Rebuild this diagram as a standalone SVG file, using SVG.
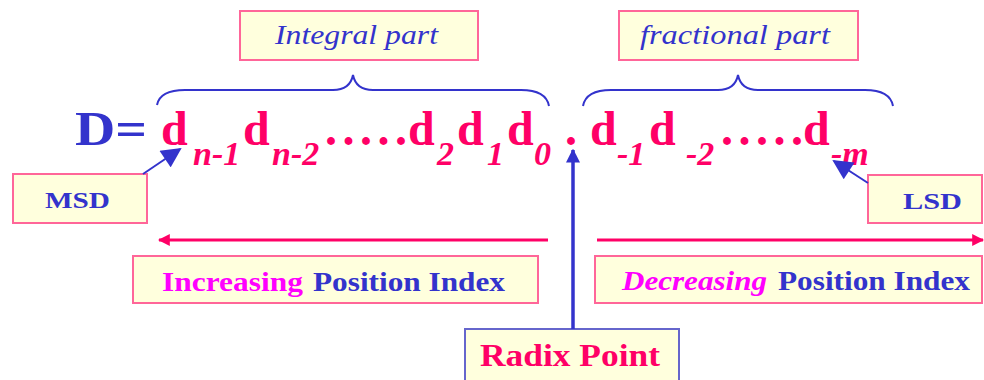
<svg xmlns="http://www.w3.org/2000/svg" width="984" height="380" viewBox="0 0 984 380">
<defs>
<style>
.box{fill:#FFFFDD;stroke:#FF6699;stroke-width:2}
.rbox{fill:#FFFFDD;stroke:#6666CC;stroke-width:2}
.lbl{font-family:"Liberation Serif",serif;font-style:italic;font-size:28px;fill:#3333CC}
.bl{font-family:"Liberation Serif",serif;font-weight:bold;fill:#3333CC}
.d{font-family:"Liberation Serif",serif;font-weight:bold;font-size:48px;fill:#FF0066}
.sub{font-family:"Liberation Serif",serif;font-weight:bold;font-style:italic;font-size:34px;fill:#FF0066}
.brace{fill:none;stroke:#3333CC;stroke-width:2}
.pk{stroke:#FF0066;stroke-width:3;fill:none}
.bn{stroke:#3333CC;stroke-width:2;fill:none}
.mg{fill:#FF00FF}
</style>
<marker id="ap" viewBox="0 0 10 10" refX="9" refY="5" markerWidth="4" markerHeight="4" orient="auto" markerUnits="strokeWidth"><path d="M0,0 L10,5 L0,10 Z" fill="#FF0066"/></marker>
<marker id="ab" viewBox="0 0 10 10" refX="9" refY="5" markerWidth="11" markerHeight="10" orient="auto" markerUnits="strokeWidth"><path d="M0,0 L10,5 L0,10 Z" fill="#3333CC"/></marker>
<marker id="ar" viewBox="0 0 10 10" refX="9" refY="5" markerWidth="4" markerHeight="4.5" orient="auto" markerUnits="strokeWidth"><path d="M0,0 L10,5 L0,10 Z" fill="#3333CC"/></marker>
</defs>

<g id="integral-part">
<rect class="box" x="240" y="11" width="238" height="49"/>
<text class="lbl" x="275" y="44" textLength="163" lengthAdjust="spacingAndGlyphs">Integral part</text>
</g>
<g id="fractional-part">
<rect class="box" x="619" y="11" width="239" height="49"/>
<text class="lbl" x="640" y="44" textLength="190" lengthAdjust="spacingAndGlyphs">fractional part</text>
</g>

<g id="number">
<text class="bl" x="75" y="145" font-size="48" textLength="72" lengthAdjust="spacingAndGlyphs">D=</text>
<text class="d" x="161" y="145">d</text>
<text class="sub" x="193" y="165">n-1</text>
<text class="d" x="243" y="145">d</text>
<text class="sub" x="272" y="165">n-2</text>
<text class="d" x="325" y="145" textLength="82" lengthAdjust="spacing">.....</text>
<text class="d" x="408" y="145">d</text>
<text class="sub" x="437" y="165">2</text>
<text class="d" x="457" y="145">d</text>
<text class="sub" x="487" y="165">1</text>
<text class="d" x="507" y="145">d</text>
<text class="sub" x="534" y="165">0</text>
<text class="d" x="565" y="145">.</text>
<text class="d" x="590" y="145">d</text>
<text class="sub" x="617" y="165">-1</text>
<text class="d" x="649" y="145">d</text>
<text class="sub" x="686" y="165">-2</text>
<text class="d" x="721" y="145" textLength="82" lengthAdjust="spacing">.....</text>
<text class="d" x="803" y="145">d</text>
<text class="sub" x="831" y="165">-m</text>
</g>

<g id="msd">
<rect class="box" x="13" y="174" width="134" height="49"/>
<text class="bl" x="45" y="208" font-size="24" textLength="65" lengthAdjust="spacingAndGlyphs">MSD</text>
</g>
<g id="lsd">
<rect class="box" x="868" y="175" width="114" height="48"/>
<text class="bl" x="903" y="209" font-size="24" textLength="59" lengthAdjust="spacingAndGlyphs">LSD</text>
</g>
<g id="increasing">
<rect class="box" x="133" y="256" width="405" height="47"/>
<text class="bl mg" x="162" y="291" font-size="27" textLength="141" lengthAdjust="spacingAndGlyphs">Increasing</text>
<text class="bl" x="313" y="291" font-size="27" textLength="192" lengthAdjust="spacingAndGlyphs">Position Index</text>
</g>
<g id="decreasing">
<rect class="box" x="595" y="256" width="387" height="47"/>
<text class="bl mg" x="622" y="290" font-size="27" font-style="italic" textLength="145" lengthAdjust="spacingAndGlyphs">Decreasing</text>
<text class="bl" x="778" y="290" font-size="27" textLength="192" lengthAdjust="spacingAndGlyphs">Position Index</text>
</g>
<g id="radix">
<rect class="rbox" x="465" y="329" width="214" height="60"/>
<text x="480" y="366" font-family="Liberation Serif, serif" font-weight="bold" font-size="32" fill="#FF0066" textLength="180" lengthAdjust="spacingAndGlyphs">Radix Point</text>
</g>

<g id="connectors">
<path class="brace" d="M157,105 Q160,90 185,90 L333,90 Q350,90 353,75 Q356,90 373,90 L521,90 Q546,90 549,106"/>
<path class="brace" d="M583,106 Q586,90 611,90 L718,90 Q735,90 738,75 Q741,90 758,90 L865,90 Q890,90 893,106"/>
<line class="pk" x1="548" y1="240" x2="159" y2="240" marker-end="url(#ap)"/>
<line class="pk" x1="597" y1="240" x2="983" y2="240" marker-end="url(#ap)"/>
<line class="bn" x1="143" y1="174" x2="180" y2="149" marker-end="url(#ab)"/>
<line class="bn" x1="868" y1="183" x2="834" y2="161" marker-end="url(#ab)"/>
<line x1="573" y1="329" x2="573" y2="150" stroke="#3333CC" stroke-width="3.5" marker-end="url(#ar)"/>
</g>
</svg>
